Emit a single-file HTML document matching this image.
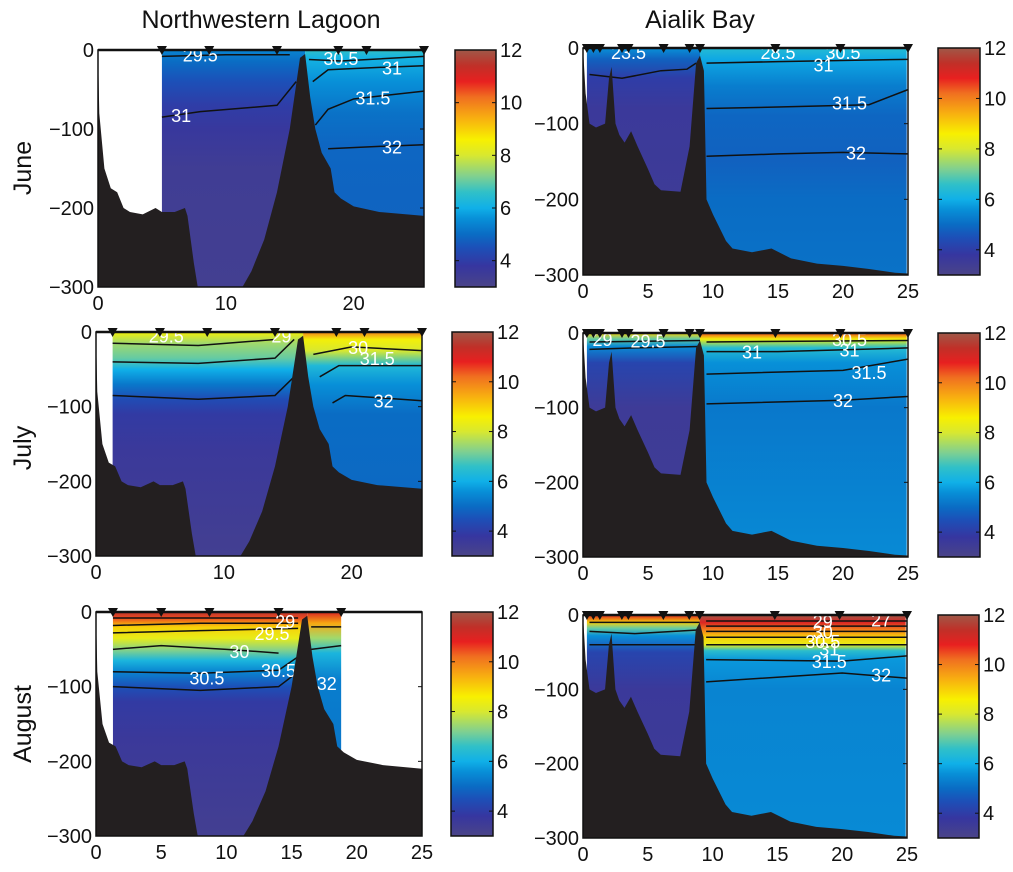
<!DOCTYPE html>
<html><head><meta charset="utf-8"><style>
html,body{margin:0;padding:0;background:#fff}
svg{display:block;font-family:"Liberation Sans",sans-serif}
</style></head><body>
<svg id="fig" width="1013" height="872" viewBox="0 0 1013 872"></svg>
<script>
// ---------- DATA ----------
const colTitles = ["Northwestern Lagoon", "Aialik Bay"];
const rowTitles = ["June", "July", "August"];
const cbTicks = [4, 6, 8, 10, 12];
const cbRange = [3, 12];
const yTicks = [0, -100, -200, -300];
const nwXTicksA = [0, 10, 20];
const nwXTicksB = [0, 5, 10, 15, 20, 25];
const abXTicks = [0, 5, 10, 15, 20, 25];

// bathymetry (distance km, depth m)
const nwBathyX = [0,0.1,0.5,1,1.5,2,2.5,3.5,4.5,5,6,6.8,7,7.5,7.8,11.3,12,13,14,15,15.8,16.2,16.6,17,17.5,18.2,18.5,19,20,22,25.5];
const nwBathyZ = [0,-80,-150,-175,-180,-200,-205,-208,-200,-205,-205,-200,-210,-270,-300,-300,-280,-240,-180,-100,-10,-5,-60,-100,-130,-150,-180,-188,-198,-205,-210];
const abBathyX = [0,0.2,0.5,1,1.7,2,2.2,2.5,2.8,3.2,3.7,4.2,5,5.5,6,7.5,8.2,8.7,9,9.3,9.5,10,11,11.5,13,14.5,16,18,20,22,24,25];
const abBathyZ = [0,-60,-100,-105,-100,-40,-25,-100,-115,-125,-110,-130,-160,-180,-188,-190,-130,-20,-10,-30,-200,-220,-255,-265,-270,-265,-278,-285,-288,-292,-297,-298];

// oxygen profiles [depth, mg/L]
const nwJunInner = [[0,5.4],[15,5.0],[40,4.5],[70,4.0],[100,3.7],[150,3.4],[300,3.3]];
const nwJunOuter = [[0,6.6],[10,6.1],[40,5.6],[80,5.1],[120,4.9],[300,4.8]];
const nwJulInner = [[0,8.5],[15,7.5],[35,7],[50,6],[70,5.2],[90,4.4],[110,3.9],[160,3.6],[300,3.3]];
const nwJulOuter = [[0,10],[10,8.5],[25,8],[45,6.3],[70,5.6],[110,5],[300,4.9]];
const nwAugInner = [[0,11.5],[8,10.5],[20,9],[35,8.3],[50,7.3],[65,6.2],[80,5.4],[100,4.5],[120,3.9],[170,3.6],[300,3.3]];
const nwAugOuter = [[0,11],[15,9.5],[35,7.5],[55,6.2],[90,5.3],[300,5]];
const abJunInner = [[0,5.6],[15,4.8],[40,4.0],[80,3.6],[300,3.4]];
const abJunOuter = [[0,6.4],[15,5.9],[50,5.3],[90,4.9],[150,4.8],[200,5.0],[300,5.1]];
const abJulInner = [[0,9],[8,7],[18,5.5],[40,4.2],[100,3.5],[300,3.4]];
const abJulOuter = [[0,10.5],[8,8.5],[20,6.4],[40,5.6],[100,5.2],[300,5.5]];
const abAugInner = [[0,11],[10,9],[18,7],[28,5.6],[50,4.2],[100,3.6],[300,3.4]];
const abAugOuter = [[0,12],[10,11],[20,10],[30,9],[40,8.3],[48,6.5],[60,5.7],[100,5.4],[300,5.5]];

// salinity contours
const nwJunContours = [[[5,-8],[10,-6],[15,-6]],[[16.5,-12],[19,-14],[25.5,-8]],[[5,-85],[8,-78],[14,-70],[15.5,-40]],[[16.8,-40],[18,-25],[22,-22],[25.5,-20]],[[17,-95],[18,-75],[20,-62],[25.5,-52]],[[18,-125],[22,-122],[25.5,-120]]];
const nwJunLabels = [["29.5",8,-6],["30.5",19,-10],["31",6.5,-82],["31",23,-22],["31.5",21.5,-60],["32",23,-122]];
const nwJulContours = [[[1.3,-15],[8,-18],[14,-10]],[[1.3,-40],[8,-42],[14,-35],[15.5,-10]],[[1.3,-85],[8,-90],[14,-85],[15.5,-60]],[[17,-30],[20,-20],[25.5,-25]],[[17.5,-60],[19,-45],[25.5,-45]],[[18.5,-95],[19.5,-85],[25.5,-92]]];
const nwJulLabels = [["29.5",5.5,-5],["29",14.5,-5],["30",20.5,-20],["31.5",22,-35],["32",22.5,-92]];
const nwAugContours = [[[1.3,-8],[15.5,-8]],[[1.3,-18],[8,-15],[15.5,-15]],[[1.3,-28],[8,-25],[15.5,-22]],[[1.3,-50],[5,-45],[10,-50],[14,-55]],[[1.3,-80],[8,-82],[14,-78],[15.5,-60]],[[1.3,-100],[8,-105],[14,-100],[15.5,-80]],[[16.5,-20],[18.8,-20]],[[16.5,-50],[18.8,-45]]];
const nwAugLabels = [["29",14.5,-12],["29.5",13.5,-28],["30",11,-52],["30.5",8.5,-88],["30.5",14,-78],["32",17.7,-95]];
const abJunContours = [[[0.5,-35],[3,-40],[6,-30],[8,-28],[8.7,-20]],[[9.5,-20],[15,-18],[25,-15]],[[9.5,-80],[15,-78],[22,-75],[25,-55]],[[9.5,-143],[15,-140],[20,-138],[25,-140]]];
const abJunLabels = [["23.5",3.5,-5],["28.5",15,-5],["30.5",20,-5],["31",18.5,-22],["31.5",20.5,-72],["32",21,-138]];
const abJulContours = [[[0.5,-12],[9,-10]],[[0.5,-22],[4,-20],[9,-18]],[[9.5,-12],[25,-10]],[[9.5,-25],[15,-25],[25,-20]],[[9.5,-55],[20,-50],[25,-35]],[[9.5,-95],[20,-90],[25,-85]]];
const abJulLabels = [["29",1.5,-8],["29.5",5,-10],["31",13,-25],["30.5",20.5,-8],["31",20.5,-22],["31.5",22,-52],["32",20,-90]];
const abAugContours = [[[0.5,-10],[9,-10]],[[0.5,-22],[4,-25],[9,-20]],[[0.5,-40],[9,-40]],[[9.5,-8],[25,-8]],[[9.5,-15],[25,-15]],[[9.5,-22],[25,-22]],[[9.5,-30],[25,-30]],[[9.5,-40],[25,-40]],[[9.5,-60],[20,-62],[25,-55]],[[9.5,-90],[20,-78],[25,-85]]];
const abAugLabels = [["29",18.5,-8],["27",23,-6],["30",18.5,-22],["30.5",18.5,-35],["31",19,-45],["31.5",19,-62],["32",23,-80]];

const nwStations = [[5,8.7,14,18.8,21,25.5],[1.3,5,8.7,14,18.8,21,25.5],[1.3,5,8.7,14,18.8]];
const abStations = [0.3,0.8,1.3,3,3.5,6.2,8.2,9,14.8,19.8,25];

// ---------- LAYOUT ----------
const panels = [
 {id:"nw-june", x0:98,x1:424,y0:50,y1:287,xmax:25.5,cb:[455,496],bx:nwBathyX,bz:nwBathyZ,split:16.2,water:[5,25.5],inner:nwJunInner,outer:nwJunOuter,ct:nwJunContours,lb:nwJunLabels,st:nwStations[0],xt:nwXTicksA},
 {id:"ab-june", x0:583,x1:908,y0:48,y1:275,xmax:25,cb:[938,980],bx:abBathyX,bz:abBathyZ,split:9,water:[0.3,24.9],inner:abJunInner,outer:abJunOuter,ct:abJunContours,lb:abJunLabels,st:abStations,xt:abXTicks},
 {id:"nw-july", x0:96,x1:422,y0:332,y1:556,xmax:25.5,cb:[452,493],bx:nwBathyX,bz:nwBathyZ,split:16.2,water:[1.3,25.5],inner:nwJulInner,outer:nwJulOuter,ct:nwJulContours,lb:nwJulLabels,st:nwStations[1],xt:nwXTicksA},
 {id:"ab-july", x0:583,x1:908,y0:333,y1:557,xmax:25,cb:[938,980],bx:abBathyX,bz:abBathyZ,split:9,water:[0.3,24.9],inner:abJulInner,outer:abJulOuter,ct:abJulContours,lb:abJulLabels,st:abStations,xt:abXTicks},
 {id:"nw-august", x0:96,x1:422,y0:612,y1:836,xmax:25,cb:[451,493],bx:nwBathyX,bz:nwBathyZ,split:16.2,water:[1.3,18.8],inner:nwAugInner,outer:nwAugOuter,ct:nwAugContours,lb:nwAugLabels,st:nwStations[2],xt:nwXTicksB},
 {id:"ab-august", x0:583,x1:907,y0:615,y1:838,xmax:25,cb:[938,979],bx:abBathyX,bz:abBathyZ,split:9,water:[0.3,24.9],inner:abAugInner,outer:abAugOuter,ct:abAugContours,lb:abAugLabels,st:abStations,xt:abXTicks}
];

const cmapV = [3,3.8,4.5,5,5.6,6,6.6,7.2,8,8.6,9.4,10.2,10.8,11.4,12];
const cmapC = ["#4a4488","#3636a0","#1c50b8","#0a6cc4","#0890d8","#10b0e8","#30c0c8","#80d090","#d8e830","#f8f000","#f8b010","#f07020","#e82020","#c03028","#a05848"];
function hex(c){return [1,3,5].map(i=>parseInt(c.substr(i,2),16));}
function cmap(v){
  v=Math.max(3,Math.min(12,v));
  for(let i=0;i<cmapV.length-1;i++){
    if(v<=cmapV[i+1]){const t=(v-cmapV[i])/(cmapV[i+1]-cmapV[i]);const a=hex(cmapC[i]),b=hex(cmapC[i+1]);
      return "rgb("+a.map((x,k)=>Math.round(x+(b[k]-x)*t)).join(",")+")";}
  }
  return cmapC[cmapC.length-1];
}
const NS="http://www.w3.org/2000/svg";
const svg=document.getElementById("fig");
const defs=document.createElementNS(NS,"defs");svg.appendChild(defs);
function el(tag,attrs,parent){const e=document.createElementNS(NS,tag);for(const k in attrs)e.setAttribute(k,attrs[k]);(parent||svg).appendChild(e);return e;}

// titles
[[261,28],[700,28]].forEach((p,i)=>{const t=el("text",{x:p[0],y:p[1],"font-size":"25","text-anchor":"middle",fill:"#111"});
  
  
  t.textContent=colTitles[i];});
[168,448,724].forEach((y,i)=>{const t=el("text",{x:0,y:0,"font-size":"25","text-anchor":"middle",fill:"#111",transform:`translate(31,${y}) rotate(-90)`});
  
  
  t.textContent=rowTitles[i];});

panels.forEach((p,pi)=>{
  const g=el("g",{});
  
  
  const X=d=>p.x0+(p.x1-p.x0)*d/p.xmax;
  const Y=z=>p.y0+(p.y1-p.y0)*(-z)/300;
  [["inner",0,p.split,p.inner],["outer",p.split,p.xmax,p.outer]].forEach(([nm,a,b,prof])=>{
    const gid="g"+pi+nm;
    const lg=el("linearGradient",{id:gid,gradientUnits:"userSpaceOnUse",x1:0,y1:Y(0),x2:0,y2:Y(-300)},defs);
    prof.forEach(([d,v])=>el("stop",{offset:d/300,"stop-color":cmap(v)},lg));
    const xa=Math.max(a,p.water[0]),xb=Math.min(b,p.water[1]);
    if(xb>xa){const r=el("rect",{x:X(xa),y:Y(0),width:X(xb)-X(xa),height:Y(-300)-Y(0),fill:`url(#${gid})`},g);
      
      }
  });
  p.ct.forEach(c=>{const pl=el("polyline",{points:c.map(q=>X(q[0])+","+Y(q[1])).join(" "),fill:"none",stroke:"#111","stroke-width":1.5},g);
    
    });
  p.lb.forEach(l=>{const t=el("text",{x:X(l[1]),y:Y(l[2])+7,"font-size":"18","text-anchor":"middle",fill:"#fff"},g);
    
    
    t.textContent=l[0];});
  let pts=p.bx.map((d,i)=>X(Math.min(d,p.xmax))+","+Y(p.bz[i]));
  pts.push(X(p.xmax)+","+Y(-300),X(0)+","+Y(-300));
  const bp=el("polygon",{points:pts.join(" "),fill:"#231f20"},g);
  
  
  const fr=el("rect",{x:p.x0,y:p.y0,width:p.x1-p.x0,height:p.y1-p.y0,fill:"none",stroke:"#111","stroke-width":1.5},g);
  
  
  el("line",{x1:p.x0,y1:Y(0),x2:p.x1,y2:Y(0),stroke:"#111","stroke-width":2.5},g);
  p.st.forEach(s=>{const x=X(s);const tr=el("polygon",{points:`${x-5},${Y(0)-4} ${x+5},${Y(0)-4} ${x},${Y(0)+5}`,fill:"#111"},g);
    
    });
  yTicks.forEach(v=>{const y=Y(v);
    el("line",{x1:p.x1-4,y1:y,x2:p.x1,y2:y,stroke:"#111"},g);
    const t=el("text",{x:p.x0-4,y:y+7,"font-size":"20","text-anchor":"end",fill:"#111"},g);
    
    
    t.textContent=v===0?"0":"\u2212"+(-v);});
  p.xt.forEach(v=>{const x=X(v);
    const t=el("text",{x:x,y:p.y1+23,"font-size":"20","text-anchor":"middle",fill:"#111"},g);
    
    
    t.textContent=v;});
  const cid="cb"+pi;
  const cl=el("linearGradient",{id:cid,x1:0,y1:1,x2:0,y2:0},defs);
  cmapV.forEach((v,i)=>el("stop",{offset:(v-cbRange[0])/(cbRange[1]-cbRange[0]),"stop-color":cmapC[i]},cl));
  const cb=el("rect",{x:p.cb[0],y:p.y0,width:p.cb[1]-p.cb[0],height:p.y1-p.y0,fill:`url(#${cid})`,stroke:"#111","stroke-width":1.5},g);
  
  
  const CY=v=>p.y1-(p.y1-p.y0)*(v-cbRange[0])/(cbRange[1]-cbRange[0]);
  cbTicks.forEach(v=>{const y=CY(v);
    el("line",{x1:p.cb[1]-4,y1:y,x2:p.cb[1],y2:y,stroke:"#111"},g);
    el("line",{x1:p.cb[0],y1:y,x2:p.cb[0]+4,y2:y,stroke:"#111"},g);
    const t=el("text",{x:p.cb[1]+4,y:y+7,"font-size":"20",fill:"#111"},g);
    
    
    t.textContent=v;});
});
</script>
</body></html>
